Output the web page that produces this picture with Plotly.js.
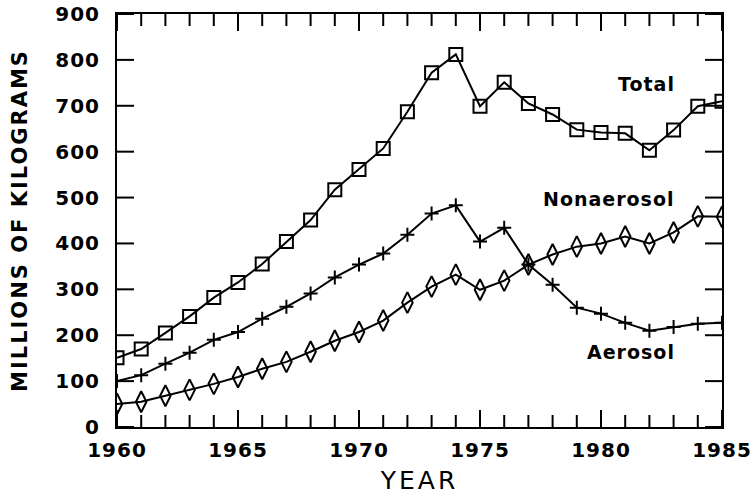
<!DOCTYPE html>
<html>
<head>
<meta charset="utf-8">
<script src="https://cdn.plot.ly/plotly-3.0.1.min.js"></script>
<style>
html,body{margin:0;padding:0;background:#fff}
#chart{width:754px;height:495px}
.xtick text,.ytick text{letter-spacing:1px}
.g-ytitle text{letter-spacing:2px}
.g-xtitle text{letter-spacing:3px}
.annotation-text{letter-spacing:1px}
</style>
</head>
<body>
<div id="chart"></div>
<script>
const years = [1960,1961,1962,1963,1964,1965,1966,1967,1968,1969,1970,1971,1972,1973,1974,1975,1976,1977,1978,1979,1980,1981,1982,1983,1984,1985];
const total = [151,170,205,241,282,315,355,404,451,517,561,607,687,772,812,699,751,705,681,648,642,640,603,647,699,710];
const crossLine = [100,113,138,162,190,207,236,262,291,326,354,378,419,465,483,404,434,354,310,260,247,227,210,218,225,227];
const diamondLine = [50,55,68,81,94,109,127,142,164,188,207,232,271,306,332,299,319,354,376,393,400,415,400,424,459,458];
const yTickVals = [0,100,200,300,400,500,600,700,800,900];
const xMajorTicks = [1960,1965,1970,1975,1980,1985];
const labels = ["Total","Nonaerosol","Aerosol"];
const labelPos = [[1983.15,747],[1983.15,496],[1983.15,164]];

const W = 754, H = 495, M = {l:117, r:32, t:14, b:68};
const xRange = [1960,1985], yRange = [0,900];
const font = "DejaVu Sans, Arial, sans-serif";
const lineStyle = {color:'black', width:2};

// tick marks inside the frame on all four sides, as one line trace
const yPerPx = (yRange[1]-yRange[0]) / (H - M.t - M.b);
const xPerPx = (xRange[1]-xRange[0]) / (W - M.l - M.r);
const tx = [], ty = [];
years.forEach(yr => {
  const len = (xMajorTicks.includes(yr) ? 17 : 12) * yPerPx;
  tx.push(yr, yr, null, yr, yr, null);
  ty.push(yRange[0], yRange[0]+len, null, yRange[1], yRange[1]-len, null);
});
yTickVals.forEach(v => {
  const len = 17 * xPerPx;
  tx.push(xRange[0], xRange[0]+len, null, xRange[1], xRange[1]-len, null);
  ty.push(v, v, null, v, v, null);
});

const traces = [
  {x:tx, y:ty, mode:'lines', line:{color:'black', width:2}, connectgaps:false, cliponaxis:false, hoverinfo:'skip'},
  {x:years, y:total, mode:'lines+markers', line:lineStyle,
   marker:{symbol:'square-open', size:13, color:'black', line:{width:2, color:'black'}}},
  {x:years, y:crossLine, mode:'lines+markers', line:lineStyle,
   marker:{symbol:'cross-thin-open', size:10, color:'black', line:{width:2, color:'black'}}},
  {x:years, y:diamondLine, mode:'lines+markers', line:lineStyle,
   marker:{symbol:'diamond-tall-open', size:15, color:'black', line:{width:2, color:'black'}}}
];

const annotations = labels.map((t,i)=>({x:labelPos[i][0], y:labelPos[i][1], text:t, showarrow:false,
  xanchor:'right', yanchor:'middle', font:{family:font, size:19, weight:'bold', color:'black'}}));
const layout = {
  width:W, height:H, showlegend:false,
  margin:M,
  xaxis:{range:xRange, tickvals:xMajorTicks, ticks:'',
    showline:true, linewidth:2, linecolor:'black', mirror:true, showgrid:false, zeroline:false,
    tickfont:{size:20, family:font, weight:'bold', color:'black'}, ticklabelstandoff:4,
    title:{text:'YEAR', font:{size:25, family:font, color:'black'}, standoff:10}},
  yaxis:{range:yRange, tickvals:yTickVals, ticks:'',
    showline:true, linewidth:2, linecolor:'black', mirror:true, showgrid:false, zeroline:false,
    tickfont:{size:20, family:font, weight:'bold', color:'black'}, ticklabelstandoff:11,
    title:{text:'MILLIONS OF KILOGRAMS', font:{size:21, family:font, weight:'bold', color:'black'}, standoff:22}},
  annotations:annotations
};
Plotly.newPlot('chart', traces, layout, {displayModeBar:false, staticPlot:true});
</script>
</body>
</html>
